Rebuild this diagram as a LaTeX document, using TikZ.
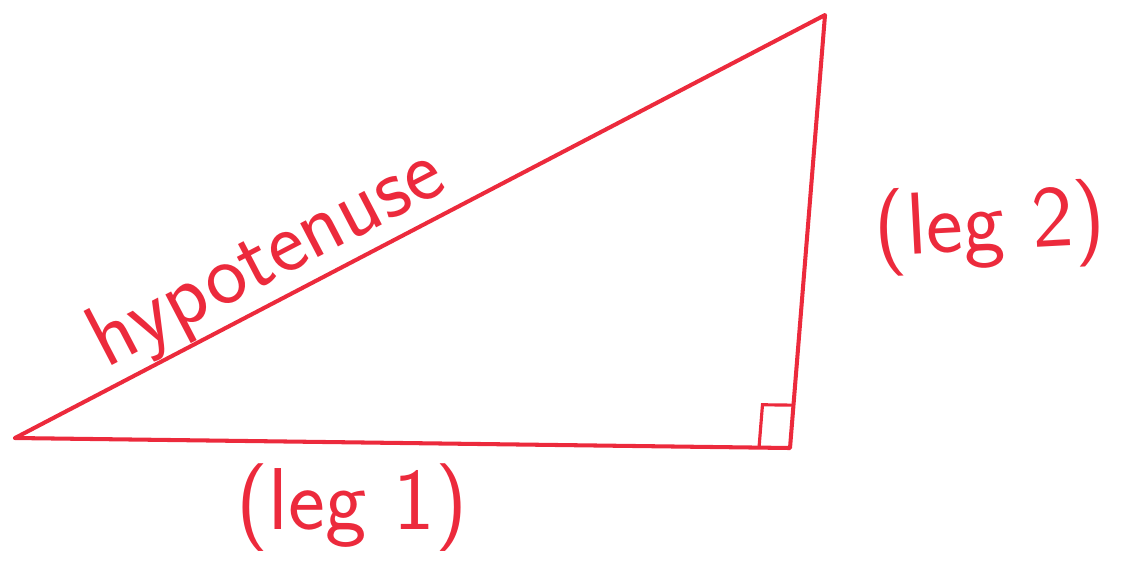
\documentclass[tikz,border=0pt]{standalone}
\usepackage{fontspec}
\usepackage{tikz}
\usetikzlibrary{calc, positioning}
\definecolor{rojo}{HTML}{EC2A3C}
\tikzset{
  every picture/.style={font=\sffamily},
  lado/.style={draw=rojo, line width=2.3pt, line cap=round, line join=round},
  recto/.style={draw=rojo, line width=1.8pt},
  rotulo/.style={text=rojo, font=\sffamily\fontsize{50}{50}\selectfont, inner sep=0pt},
}
\begin{document}
\begin{tikzpicture}[x=0.02cm, y=-0.02cm]
  \useasboundingbox (0,0) rectangle (1138,569);
  % vertices
  \coordinate (A) at (15,438);
  \coordinate (B) at (790,448);
  \coordinate (C) at (825,15);
  \draw[lado] (A) -- (B) -- (C) -- (A) node[pos=0.665, sloped, anchor=base, yshift=11pt, rotulo] (hip) {hypotenuse};
  % angulo recto
  \coordinate (p) at ($(B)!0.62cm!(A)$);
  \coordinate (q) at ($(B)!0.86cm!(C)$);
  \draw[recto] (p) -- ($(p)+(q)-(B)$) -- (q);
  \node[rotulo] (l1) at (352,508) {(leg 1)};
  \node[rotulo, rotate=3] (l2) at (990,228) {(leg 2)};
\end{tikzpicture}
\end{document}
